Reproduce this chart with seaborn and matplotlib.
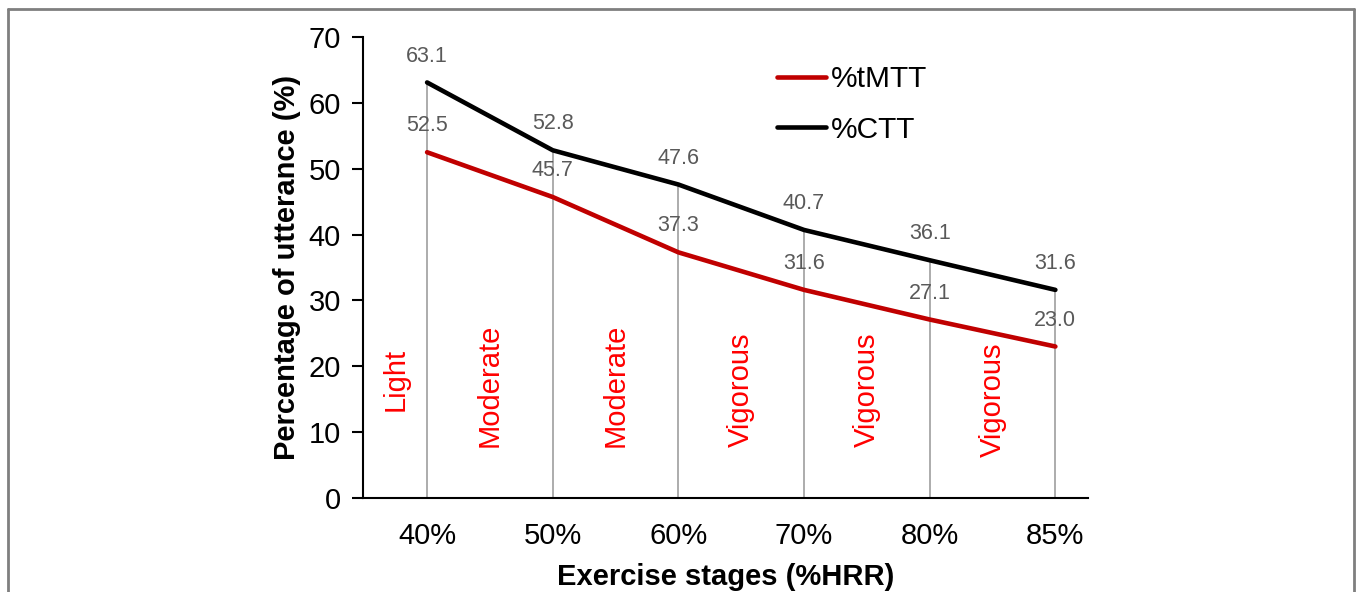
import pandas as pd
import seaborn as sns
import matplotlib.pyplot as plt
from matplotlib.lines import Line2D

# ----------- Data ---------------------

stages = ["40%", "50%", "60%", "70%", "80%", "85%"]
tmtt = [52.5, 45.7, 37.3, 31.6, 27.1, 23.0]
ctt = [63.1, 52.8, 47.6, 40.7, 36.1, 31.6]
intensity = ["Light", "Moderate", "Moderate", "Vigorous", "Vigorous", "Vigorous"]
intensity_x = [-0.25, 0.5, 1.5, 2.5, 3.5, 4.5]
intensity_y = [13.2, 7.8, 7.8, 7.8, 7.8, 6.2]

pos = list(range(len(stages)))
df = pd.DataFrame({
    "pos": pos * 2,
    "value": tmtt + ctt,
    "series": ["%tMTT"] * len(stages) + ["%CTT"] * len(stages),
})

# ----------- Build Chart ---------------------

sns.set_style("white")
plt.rcParams['font.family'] = ['Liberation Sans', 'DejaVu Sans']
plt.rcParams['text.color'] = 'black'
plt.rcParams['axes.labelcolor'] = 'black'
plt.rcParams['xtick.color'] = 'black'
plt.rcParams['ytick.color'] = 'black'

fig = plt.figure(figsize=(13.57, 5.92), dpi=100)
ax = fig.add_axes([0.2675, 0.1588, 0.8018 - 0.2675, 0.9375 - 0.1588])

# drop lines from the top series down to zero
ax.vlines(pos, 0, ctt, color="#A6A6A6", linewidth=1.3, zorder=1)

sns.lineplot(data=df, x="pos", y="value", hue="series",
             palette={"%tMTT": "#C00000", "%CTT": "#000000"},
             linewidth=3.3, ax=ax, zorder=3)

for x, v in zip(pos, ctt):
    ax.annotate(f"{v:.1f}", (x, v), xytext=(0, 19), textcoords="offset points",
                ha="center", va="center", color="#595959", fontsize=15.5)
for x, v in zip(pos, tmtt):
    ax.annotate(f"{v:.1f}", (x, v), xytext=(0, 19), textcoords="offset points",
                ha="center", va="center", color="#595959", fontsize=15.5)

for x, y, t in zip(intensity_x, intensity_y, intensity):
    ax.text(x, y, t, rotation=90, ha="center", va="bottom",
            color="#FF0000", fontsize=21)

ax.set_xlim(-0.51, 5.26)
ax.set_ylim(0, 70)
ax.set_yticks(range(0, 71, 10))
ax.set_xticks(pos)
ax.set_xticklabels(stages)
ax.tick_params(axis="y", left=True, direction="out", length=8, width=1.5,
               labelsize=21, pad=8)
ax.tick_params(axis="x", bottom=False, length=0, labelsize=21, pad=17)

for s in ["top", "right"]:
    ax.spines[s].set_visible(False)
for s in ["left", "bottom"]:
    ax.spines[s].set_color("black")
    ax.spines[s].set_linewidth(1.5)

ax.set_xlabel("Exercise stages (%HRR)", fontsize=21, fontweight="bold", labelpad=10)
ax.set_ylabel("Percentage of utterance (%)", fontsize=21, fontweight="bold", labelpad=5)

handles, labels = ax.get_legend_handles_labels()
ax.legend(handles, labels, loc="upper left", bbox_to_anchor=(0.5636, 0.91),
          bbox_transform=fig.transFigure, frameon=False, fontsize=21.5,
          handlelength=1.65, handletextpad=0.15, labelspacing=0.75, borderaxespad=0)

# outer frame of the figure panel
frame_kw = dict(color="#7F7F7F", linewidth=2, transform=fig.transFigure)
fig.lines.append(Line2D([7.5 / 1357, 1354 / 1357], [1 - 8.5 / 592, 1 - 8.5 / 592], **frame_kw))
fig.lines.append(Line2D([7.5 / 1357, 7.5 / 1357], [0, 1 - 8.5 / 592], **frame_kw))
fig.lines.append(Line2D([1354 / 1357, 1354 / 1357], [0, 1 - 8.5 / 592], **frame_kw))

plt.savefig("out.png", dpi=100)
